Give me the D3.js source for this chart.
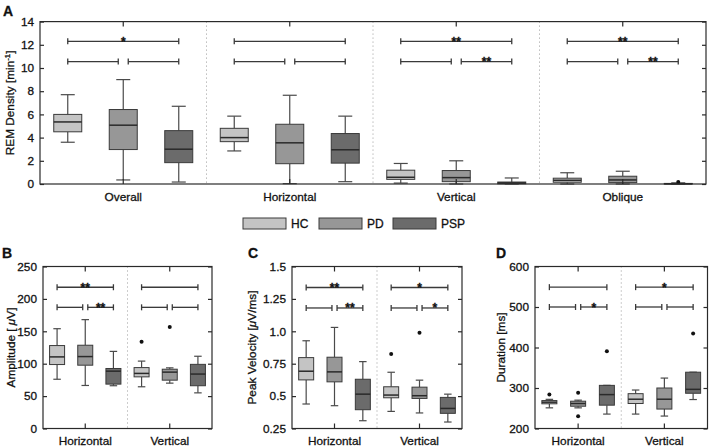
<!DOCTYPE html>
<html><head><meta charset="utf-8">
<script src="https://cdn.jsdelivr.net/npm/d3@7"></script>
<style>body{margin:0;background:#fff} svg{display:block} text{font-family:"Liberation Sans",Arial,Helvetica,sans-serif;fill:#111;stroke:#111;stroke-width:0.3px}</style>
</head><body>
<svg id="c" width="709" height="448"></svg>
<script>
// ---------- DATA ----------
const seriesNames = ["HC", "PD", "PSP"];
const groupsA = ["Overall", "Horizontal", "Vertical", "Oblique"];
const groupsBCD = ["Horizontal", "Vertical"];

// box stats per group: [whiskerLow, Q1, median, Q3, whiskerHigh]
const remHC  = [[3.6, 4.5, 5.35, 6.0, 7.7], [2.85, 3.65, 4.0, 4.8, 5.85], [0.08, 0.4, 0.58, 1.19, 1.77], [0, 0.15, 0.32, 0.5, 0.97]];
const remPD  = [[0.35, 2.97, 5.07, 6.42, 9.0], [0.03, 1.75, 3.55, 5.15, 7.65], [0, 0.2, 0.55, 1.16, 2.0], [0, 0.12, 0.35, 0.67, 1.1]];
const remPSP = [[0.17, 1.84, 3.0, 4.6, 6.7], [0.2, 1.8, 2.95, 4.35, 5.85], [0, 0.02, 0.09, 0.17, 0.52], [0, 0, 0.02, 0.05, 0.1]];
const remOutHC = [[], [], [], []];
const remOutPD = [[], [], [], []];
const remOutPSP = [[], [], [], [0.17]];

const ampHC  = [[76, 98.7, 110.5, 128, 154], [64.4, 79.7, 85, 94, 104]];
const ampPD  = [[66.4, 97.7, 111, 128.5, 168], [70, 74.6, 87, 91.5, 93.6]];
const ampPSP = [[66, 68.5, 88.5, 92.6, 119], [55, 66, 84, 99, 111.5]];
const ampOutHC = [[], [134]];
const ampOutPD = [[], [156.7]];
const ampOutPSP = [[], []];

const velHC  = [[0.439, 0.625, 0.692, 0.797, 0.927], [0.382, 0.487, 0.508, 0.572, 0.684]];
const velPD  = [[0.426, 0.61, 0.687, 0.80, 1.03], [0.37, 0.482, 0.503, 0.569, 0.623]];
const velPSP = [[0.31, 0.395, 0.515, 0.63, 0.766], [0.30, 0.367, 0.405, 0.49, 0.515]];
const velOutHC = [[], [0.825]];
const velOutPD = [[], [0.988]];
const velOutPSP = [[], []];

const durHC  = [[251, 261, 265, 269, 272], [235.6, 261.7, 272.3, 286, 295]];
const durPD  = [[251, 255, 261.7, 267.4, 270], [230.7, 248, 272.3, 300, 324.5]];
const durPSP = [[235.6, 257.6, 283.7, 306.5, 306.5], [271.5, 287, 296.7, 339, 339]];
const durOutHC = [[284], []];
const durOutPD = [[288, 230], []];
const durOutPSP = [[391], [434.5]];

// significance bars: [groupIndex, fromSeries, toSeries, level, label]
const sigA = [[0,0,2,12.3,"*"],[0,0,1,10.55,""],[0,1,2,10.55,""],
              [1,0,2,12.3,""],[1,0,1,10.55,""],[1,1,2,10.55,""],
              [2,0,2,12.3,"**"],[2,0,1,10.55,""],[2,1,2,10.55,"**"],
              [3,0,2,12.3,"**"],[3,0,1,10.55,""],[3,1,2,10.55,"**"]];
const sigB = [[0,0,2,218,"**"],[0,0,1,187,""],[0,1,2,187,"**"],
              [1,0,2,218,""],[1,0,1,187,""],[1,1,2,187,""]];
const sigC = [[0,0,2,1.338,"**"],[0,0,1,1.18,""],[0,1,2,1.18,"**"],
              [1,0,2,1.338,"*"],[1,0,1,1.18,""],[1,1,2,1.18,"*"]];
const sigD = [[0,0,2,549,""],[0,0,1,500,""],[0,1,2,500,"*"],
              [1,0,2,549,"*"],[1,0,1,500,""],[1,1,2,500,""]];

const ticksA = [0, 2, 4, 6, 8, 10, 12, 14];
const ticksB = [0, 50, 100, 150, 200, 250];
const ticksC = [0.25, 0.5, 0.75, 1.0, 1.25, 1.5];
const tickLabelsC = ["0.25", "0.5", "0.75", "1.0", "1.25", "1.5"];
const ticksD = [200, 300, 400, 500, 600];

// ---------- DRAW ----------
const svg = d3.select("#c");
const fills = {HC: "#c4c4c4", PD: "#979797", PSP: "#6b6b6b"};
const FONT = '"Liberation Sans",Arial,Helvetica,sans-serif';

function panel(cfg) {
  const g = svg.append("g");
  const x = d3.scaleBand().domain(cfg.groups).range([cfg.left, cfg.right]);
  const gw = x.bandwidth();
  const xs = d3.scalePoint().domain(seriesNames).range([0, gw]).padding(0.5);
  const y = d3.scaleLinear().domain(cfg.domain).range([cfg.bottom, cfg.top]);
  const bw = cfg.boxW;

  // dividers
  cfg.groups.slice(1).forEach(gr => {
    g.append("line").attr("x1", x(gr)).attr("x2", x(gr))
      .attr("y1", cfg.top).attr("y2", cfg.bottom)
      .attr("stroke", "#9a9a9a").attr("stroke-width", 1).attr("stroke-dasharray", "1,3");
  });

  // significance bars
  const gap = gw * 0.03;
  cfg.sig.forEach(([gi, a, b, lv, lab]) => {
    const base = x(cfg.groups[gi]);
    let x1 = base + xs(seriesNames[a]);
    let x2 = base + xs(seriesNames[b]);
    if (a === 1) x1 += gap;
    if (b === 1) x2 -= gap;
    const yy = y(lv);
    g.append("line").attr("x1", x1).attr("x2", x2).attr("y1", yy).attr("y2", yy)
      .attr("stroke", "#3a3a3a").attr("stroke-width", 1.3);
    [x1, x2].forEach(xx => g.append("line").attr("x1", xx).attr("x2", xx)
      .attr("y1", yy - 3).attr("y2", yy + 3).attr("stroke", "#3a3a3a").attr("stroke-width", 1.3));
    if (lab) g.append("text").attr("x", (x1 + x2) / 2).attr("y", yy + 4.5)
      .attr("text-anchor", "middle").attr("font-size", 12).attr("font-weight", "bold").text(lab);
  });

  // boxes
  seriesNames.forEach(s => {
    cfg.stats[s].forEach((st, i) => {
      const cx = x(cfg.groups[i]) + xs(s);
      const [lo, q1, md, q3, hi] = st;
      const wc = "#4a4a4a";
      g.append("line").attr("x1", cx).attr("x2", cx).attr("y1", y(lo)).attr("y2", y(q1)).attr("stroke", wc).attr("stroke-width", 1.2);
      g.append("line").attr("x1", cx).attr("x2", cx).attr("y1", y(q3)).attr("y2", y(hi)).attr("stroke", wc).attr("stroke-width", 1.2);
      [lo, hi].forEach(v => g.append("line").attr("x1", cx - bw / 4).attr("x2", cx + bw / 4)
        .attr("y1", y(v)).attr("y2", y(v)).attr("stroke", wc).attr("stroke-width", 1.2));
      g.append("rect").attr("x", cx - bw / 2).attr("y", y(q3)).attr("width", bw)
        .attr("height", Math.max(0.5, y(q1) - y(q3))).attr("fill", fills[s])
        .attr("stroke", "#3a3a3a").attr("stroke-width", 1);
      g.append("line").attr("x1", cx - bw / 2).attr("x2", cx + bw / 2)
        .attr("y1", y(md)).attr("y2", y(md)).attr("stroke", "#2a2a2a").attr("stroke-width", 1.5);
      (cfg.out[s][i] || []).forEach(v => g.append("circle").attr("cx", cx).attr("cy", y(v)).attr("r", 2).attr("fill", "#111"));
    });
  });

  // frame
  g.append("rect").attr("x", cfg.left).attr("y", cfg.top).attr("width", cfg.right - cfg.left)
    .attr("height", cfg.bottom - cfg.top).attr("fill", "none").attr("stroke", "#2a2a2a").attr("stroke-width", 1.2);

  // axes
  g.append("g").attr("transform", `translate(${cfg.left},0)`)
    .call(d3.axisLeft(y).tickValues(cfg.ticks).tickFormat(cfg.fmt || (d => d)).tickSize(-4).tickSizeOuter(0).tickPadding(6));
  g.append("g").attr("transform", `translate(${cfg.right},0)`)
    .call(d3.axisRight(y).tickValues(cfg.ticks).tickFormat("").tickSize(-4).tickSizeOuter(0));
  g.append("g").attr("transform", `translate(0,${cfg.top})`)
    .call(d3.axisTop(x).tickFormat("").tickSize(-5).tickSizeOuter(0));
  g.append("g").attr("transform", `translate(0,${cfg.bottom})`)
    .call(d3.axisBottom(x).tickSize(-5).tickSizeOuter(0).tickPadding(cfg.xPad));
  g.selectAll(".domain").remove();
  g.selectAll(".tick line").attr("stroke", "#2a2a2a").attr("stroke-width", 1.2);
  g.selectAll(".tick text").attr("font-size", 11.8).attr("font-family", FONT).attr("fill", "#111");

  // y title
  const t = g.append("text").attr("transform", `translate(${cfg.titleX},${(cfg.top + cfg.bottom) / 2}) rotate(-90)`)
    .attr("text-anchor", "middle").attr("font-size", 11.8);
  cfg.title(t);

  // panel letter
  g.append("text").attr("x", cfg.letterX).attr("y", cfg.letterY).attr("font-size", 14)
    .attr("font-weight", "bold").text(cfg.letter);
}

panel({
  groups: groupsA, left: 40, right: 706, top: 21.6, bottom: 184, domain: [0, 14], ticks: ticksA,
  boxW: 28, xPad: 9, titleX: 14, letter: "A", letterX: 3, letterY: 16,
  stats: {HC: remHC, PD: remPD, PSP: remPSP}, out: {HC: remOutHC, PD: remOutPD, PSP: remOutPSP}, sig: sigA,
  title: t => { t.append("tspan").text("REM Density [min"); t.append("tspan").attr("dy", -4).attr("font-size", 8).text("-1"); t.append("tspan").attr("dy", 4).text("]"); }
});
panel({
  groups: groupsBCD, left: 43, right: 212, top: 266.5, bottom: 428.5, domain: [0, 250], ticks: ticksB,
  boxW: 15, xPad: 8.5, titleX: 15, letter: "B", letterX: 2, letterY: 258,
  stats: {HC: ampHC, PD: ampPD, PSP: ampPSP}, out: {HC: ampOutHC, PD: ampOutPD, PSP: ampOutPSP}, sig: sigB,
  title: t => { t.append("tspan").text("Amplitude [ "); t.append("tspan").attr("font-style", "italic").text("μ"); t.append("tspan").text("V]"); }
});
panel({
  groups: groupsBCD, left: 292, right: 462, top: 266.5, bottom: 428.5, domain: [0.25, 1.5], ticks: ticksC,
  fmt: (d, i) => tickLabelsC[i],
  boxW: 15, xPad: 8.5, titleX: 256, letter: "C", letterX: 248, letterY: 258,
  stats: {HC: velHC, PD: velPD, PSP: velPSP}, out: {HC: velOutHC, PD: velOutPD, PSP: velOutPSP}, sig: sigC,
  title: t => { t.append("tspan").text("Peak Velocity ["); t.append("tspan").attr("font-style", "italic").text("μ"); t.append("tspan").text("V/ms]"); }
});
panel({
  groups: groupsBCD, left: 535, right: 707.5, top: 266.5, bottom: 428.5, domain: [200, 600], ticks: ticksD,
  boxW: 15, xPad: 8.5, titleX: 505, letter: "D", letterX: 496, letterY: 258,
  stats: {HC: durHC, PD: durPD, PSP: durPSP}, out: {HC: durOutHC, PD: durOutPD, PSP: durOutPSP}, sig: sigD,
  title: t => { t.text("Duration [ms]"); }
});

// legend
const legX = [243, 319, 393];
const leg = svg.append("g");
seriesNames.forEach((s, i) => {
  leg.append("rect").attr("x", legX[i]).attr("y", 218).attr("width", 43).attr("height", 11)
    .attr("fill", fills[s]).attr("stroke", "#3a3a3a").attr("stroke-width", 1);
  leg.append("text").attr("x", legX[i] + 48).attr("y", 228).attr("font-size", 12).text(s);
});
</script>
</body></html>
